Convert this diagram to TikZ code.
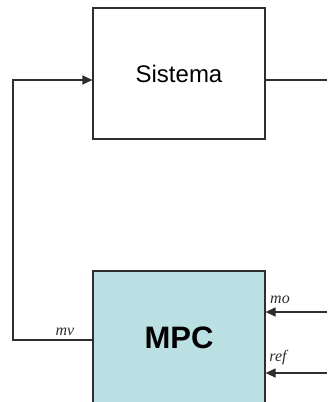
\documentclass[tikz,border=0pt]{standalone}
\usepackage{fontspec}
\setmainfont{Liberation Sans}
\newfontfamily\lserif{Liberation Serif}
\usetikzlibrary{arrows.meta}
\definecolor{linec}{HTML}{2E2E2E}
\definecolor{mpcfill}{HTML}{BBE0E3}
\begin{document}
\begin{tikzpicture}[x=1pt,y=-1pt,
  blk/.style={draw=linec, line width=1.2pt, minimum width=172pt, inner sep=0pt},
  conn/.style={draw=linec, line width=1.2pt},
  arr/.style={-{Triangle[length=10pt,width=9pt]}},
  lab/.style={font=\lserif\itshape\fontsize{16}{16}\selectfont, inner sep=0pt, text=linec}]
\useasboundingbox (0,0) rectangle (327,402);
\node[blk, fill=white, minimum height=131pt, font=\fontsize{24}{24}\selectfont] (sis) at (179,73.5) {Sistema};
\node[blk, fill=mpcfill, minimum height=134pt, font=\bfseries\fontsize{31}{31}\selectfont] (mpc) at (179,338) {MPC};
\coordinate (fb) at (13,340);
\coordinate (fb2) at (13,80);
\coordinate (out) at (327,80);
\coordinate (mo) at (327,312);
\coordinate (ref) at (327,373);
\draw[conn,arr] (fb -| mpc.west) -- (fb) -- (fb2) -- (fb2 -| sis.west);
\draw[conn] (sis.east |- out) -- (out);
\draw[conn,arr] (mo) -- (mo -| mpc.east);
\draw[conn,arr] (ref) -- (ref -| mpc.east);
\node[lab] (lmv) at (65,332) {mv};
\node[lab] (lmo) at (280,300) {mo};
\node[lab] (lref) at (278,358) {ref};
\end{tikzpicture}
\end{document}
